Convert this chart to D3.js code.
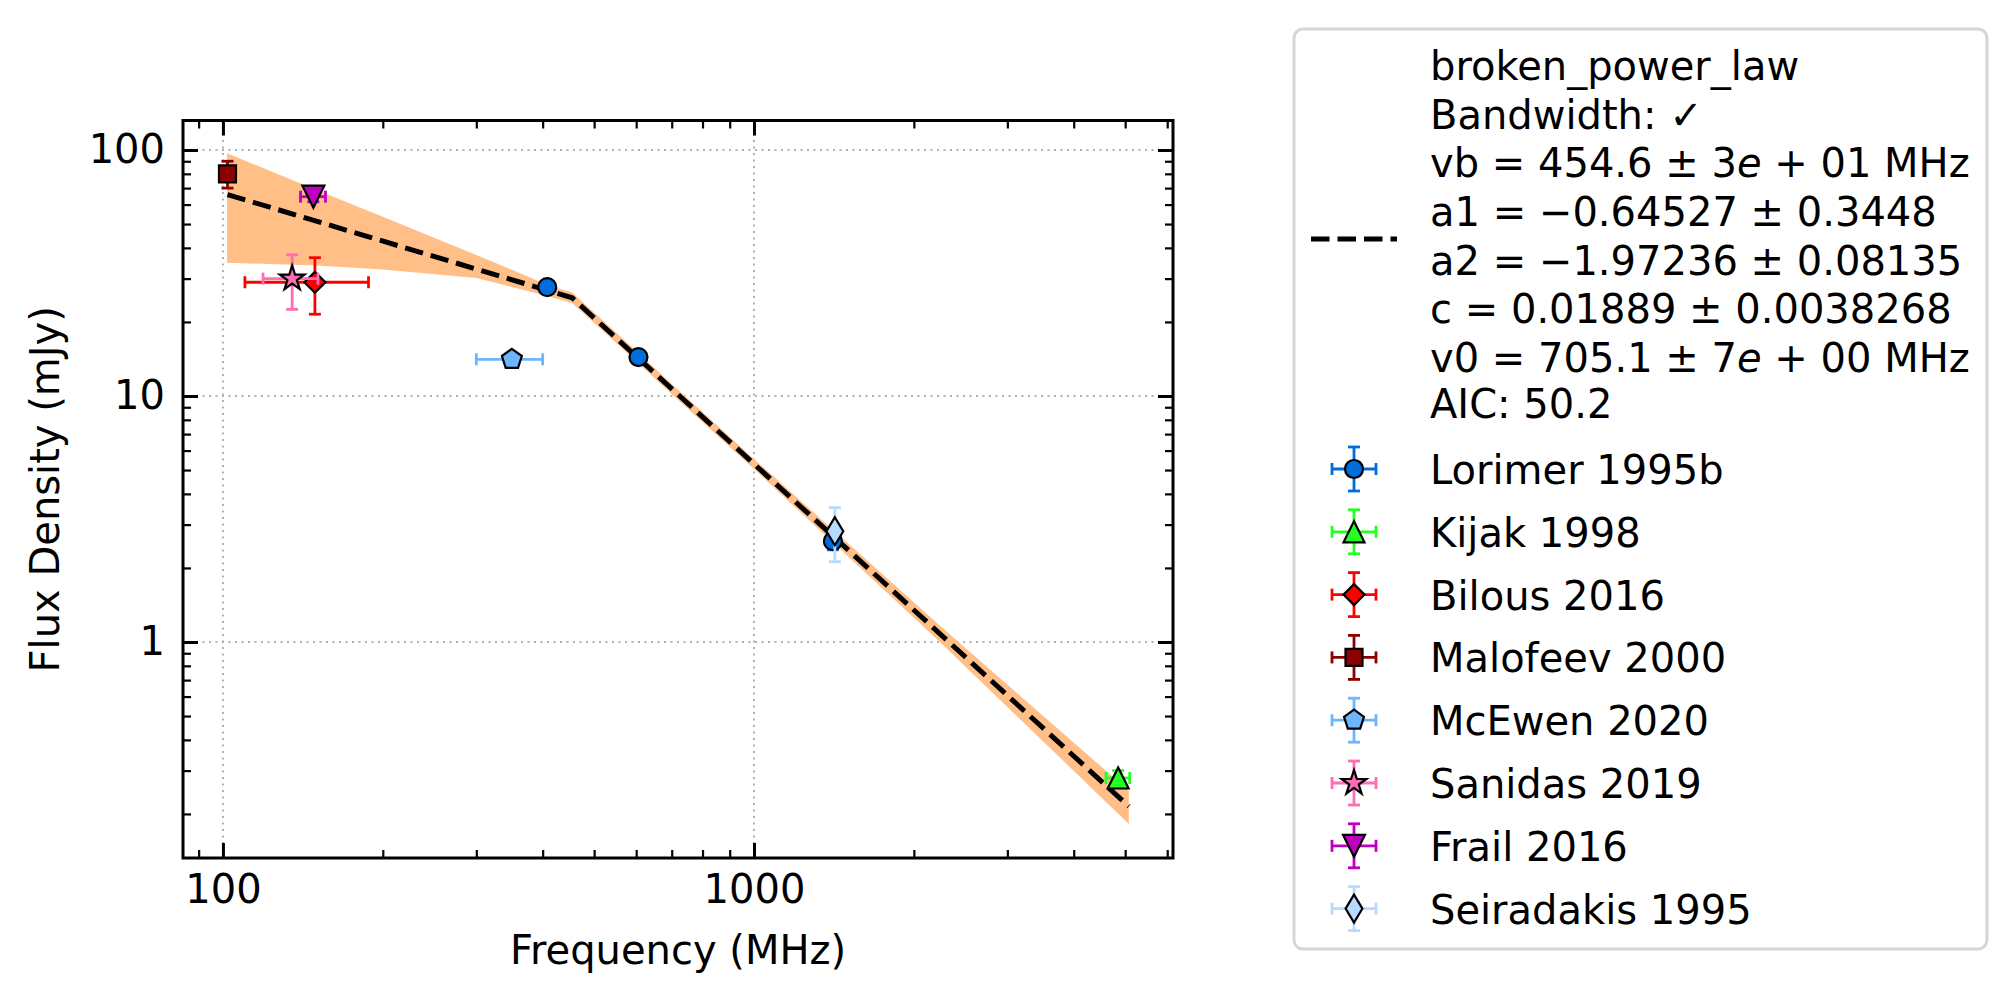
<!DOCTYPE html>
<html>
<head>
<meta charset="utf-8">
<script src="https://cdn.jsdelivr.net/npm/d3@7"></script>
<style>
body { margin: 0; background: #fff; }
text { font-family: "DejaVu Sans", sans-serif; font-size: 40px; fill: #000; }
</style>
</head>
<body>
<svg id="chart" width="2016" height="1004"></svg>
<script>
// ---- data ----
var labels  = ["Lorimer 1995b", "Kijak 1998", "Bilous 2016", "Malofeev 2000", "McEwen 2020", "Sanidas 2019", "Frail 2016", "Seiradakis 1995"];
var colors  = ["#006ddb", "#24ff24", "#ff0000", "#8b0000", "#6db6ff", "#ff6db6", "#bf00bf", "#b6dbff"];
var markers = ["circle", "triangleUp", "diamond", "square", "pentagon", "star", "triangleDown", "thinDiamond"];
var freqs   = [[408, 606, 1408], [4850], [149], [102], [350], [135], [148], [1420]];
var fluxes  = [[27.7, 14.4, 2.57], [0.28], [29], [80], [14.1], [30], [64.6], [2.82]];
var fluxErr = [[1.0, 0.6, 0.2], [0.02], [7.5], [10], [0.7], [7.5], [3], [0.7]];
var freqErr = [[4, 5, 8], [250], [39], [1], [50], [16], [8], [6]];

// fitted broken power law (break at vb) and its uncertainty band
var fitFreq = [102, 454.6, 5080];
var fitFlux = [65.9, 25.07, 0.2146];
var bandFreq  = [101.8, 150, 200, 300, 362, 408, 454.6, 606, 700, 1000, 2237, 5080];
var bandUpper = [97.0, 68.8, 53.5, 37.4, 31.6, 28.25, 26.35, 14.95, 11.2, 5.55, 1.166, 0.2486];
var bandLower = [34.8, 33.9, 32.7, 30.2, 27.2, 25.5, 23.9, 13.6, 10.2, 5.05, 1.003, 0.182];

var fitLines = [
  [{t: "broken_power_law"}],
  [{t: "Bandwidth: \u2713"}],
  [{t: "vb = 454.6 \u00b1 3"}, {t: "e", i: 1}, {t: " + 01 MHz"}],
  [{t: "a1 = \u22120.64527 \u00b1 0.3448"}],
  [{t: "a2 = \u22121.97236 \u00b1 0.08135"}],
  [{t: "c = 0.01889 \u00b1 0.0038268"}],
  [{t: "v0 = 705.1 \u00b1 7"}, {t: "e", i: 1}, {t: " + 00 MHz"}],
  [{t: "AIC: 50.2"}]
];

var xMajor = [100, 1000];
var yMajor = [1, 10, 100];

// ---- layout ----
var svg = d3.select("#chart");
var pL = 183, pR = 1173, pT = 120.5, pB = 858;

var x = d3.scaleLog().domain([84.1, 6152]).range([pL, pR]);
var y = d3.scaleLog().domain([0.1324, 131.8]).range([pB, pT]);

function minors(lo, hi) {
  var out = [];
  for (var d = -2; d <= 4; d++)
    for (var k = 2; k <= 9; k++) {
      var v = k * Math.pow(10, d);
      if (v > lo && v < hi) out.push(v);
    }
  return out;
}
var xMinor = minors(84.1, 6152);
var yMinor = minors(0.1324, 131.8);

// marker shapes, size = half extent in px
function poly(ctx, pts) {
  ctx.moveTo(pts[0][0], pts[0][1]);
  for (var i = 1; i < pts.length; i++) ctx.lineTo(pts[i][0], pts[i][1]);
  ctx.closePath();
}
var shapes = {
  circle: {draw: function(c, s) { c.moveTo(s, 0); c.arc(0, 0, s, 0, 2 * Math.PI); }},
  square: {draw: function(c, s) { poly(c, [[-s, -s], [s, -s], [s, s], [-s, s]]); }},
  triangleUp: {draw: function(c, s) { poly(c, [[0, -s], [-s, s], [s, s]]); }},
  triangleDown: {draw: function(c, s) { poly(c, [[0, s], [-s, -s], [s, -s]]); }},
  diamond: {draw: function(c, s) { poly(c, [[0, -s], [s, 0], [0, s], [-s, 0]]); }},
  thinDiamond: {draw: function(c, s) { poly(c, [[0, -s], [s * 0.6, 0], [0, s], [-s * 0.6, 0]]); }},
  pentagon: {draw: function(c, s) {
    var p = d3.range(5).map(function(i) { var a = -Math.PI / 2 + i * 2 * Math.PI / 5; return [s * Math.cos(a), s * Math.sin(a)]; });
    poly(c, p);
  }},
  star: {draw: function(c, s) {
    var p = d3.range(10).map(function(i) { var r = i % 2 ? s * 0.381966 : s; var a = -Math.PI / 2 + i * Math.PI / 5; return [r * Math.cos(a), r * Math.sin(a)]; });
    poly(c, p);
  }}
};
var markerSize = {circle: 9, square: 8.5, triangleUp: 10.5, triangleDown: 11, diamond: 10.5, thinDiamond: 14, pentagon: 10.5, star: 13};

// ---- grid ----
var grid = svg.append("g").attr("stroke", "#b0b0b0").attr("stroke-width", 2).attr("stroke-dasharray", "2,4.5");
grid.selectAll(".gx").data(xMajor).enter().append("line")
  .attr("x1", function(d) { return x(d); }).attr("x2", function(d) { return x(d); })
  .attr("y1", pT).attr("y2", pB);
grid.selectAll(".gy").data(yMajor).enter().append("line")
  .attr("y1", function(d) { return y(d); }).attr("y2", function(d) { return y(d); })
  .attr("x1", pL).attr("x2", pR);

// ---- fit band and line ----
svg.append("clipPath").attr("id", "plotclip").append("rect")
  .attr("x", pL).attr("y", pT).attr("width", pR - pL).attr("height", pB - pT);
var plot = svg.append("g").attr("clip-path", "url(#plotclip)");

var area = d3.area()
  .x(function(d, i) { return x(bandFreq[i]); })
  .y0(function(d, i) { return y(bandLower[i]); })
  .y1(function(d, i) { return y(bandUpper[i]); });
plot.append("path").datum(bandFreq).attr("d", area).attr("fill", "#ffbf87");

var line = d3.line()
  .x(function(d, i) { return x(fitFreq[i]); })
  .y(function(d, i) { return y(fitFlux[i]); });
plot.append("path").datum(fitFreq).attr("d", line)
  .attr("fill", "none").attr("stroke", "#000").attr("stroke-width", 5)
  .attr("stroke-dasharray", "18.5,8");

// ---- data points with error bars ----
var cap = 6;
labels.forEach(function(lab, s) {
  var g = svg.append("g");
  var pts = freqs[s].map(function(f, i) { return {f: f, v: fluxes[s][i], ev: fluxErr[s][i], ef: freqErr[s][i]}; });
  var eb = g.append("g").attr("stroke", colors[s]).attr("stroke-width", 2.8);
  pts.forEach(function(p) {
    var cx = x(p.f), cy = y(p.v);
    var x0 = x(p.f - p.ef), x1 = x(p.f + p.ef), y0 = y(p.v - p.ev), y1 = y(p.v + p.ev);
    eb.append("line").attr("x1", x0).attr("x2", x1).attr("y1", cy).attr("y2", cy);
    eb.append("line").attr("x1", cx).attr("x2", cx).attr("y1", y0).attr("y2", y1);
    [x0, x1].forEach(function(xx) { eb.append("line").attr("x1", xx).attr("x2", xx).attr("y1", cy - cap).attr("y2", cy + cap); });
    [y0, y1].forEach(function(yy) { eb.append("line").attr("y1", yy).attr("y2", yy).attr("x1", cx - cap).attr("x2", cx + cap); });
  });
  g.selectAll("path.m").data(pts).enter().append("path")
    .attr("d", d3.symbol().type(shapes[markers[s]]).size(markerSize[markers[s]]))
    .attr("transform", function(d) { return "translate(" + x(d.f) + "," + y(d.v) + ")"; })
    .attr("fill", colors[s]).attr("stroke", "#000").attr("stroke-width", 2.2);
});

// ---- axes (ticks inward on all sides) ----
function styleAxis(sel) {
  sel.select(".domain").remove();
  sel.selectAll("line").attr("stroke", "#000");
  sel.selectAll("text").attr("font-size", 40).attr("font-family", "DejaVu Sans").attr("fill", "#000");
}
var fmt = function(d) { return d3.format("d")(d); };

svg.append("g").attr("transform", "translate(0," + pB + ")")
  .call(d3.axisBottom(x).tickValues(xMajor).tickFormat(fmt).tickSizeInner(-15).tickSizeOuter(0).tickPadding(17))
  .call(styleAxis).selectAll("line").attr("stroke-width", 3);
svg.append("g").attr("transform", "translate(0," + pB + ")")
  .call(d3.axisBottom(x).tickValues(xMinor).tickFormat("").tickSizeInner(-8).tickSizeOuter(0))
  .call(styleAxis).selectAll("line").attr("stroke-width", 2.2);
svg.append("g").attr("transform", "translate(0," + pT + ")")
  .call(d3.axisTop(x).tickValues(xMajor).tickFormat("").tickSizeInner(-15).tickSizeOuter(0))
  .call(styleAxis).selectAll("line").attr("stroke-width", 3);
svg.append("g").attr("transform", "translate(0," + pT + ")")
  .call(d3.axisTop(x).tickValues(xMinor).tickFormat("").tickSizeInner(-8).tickSizeOuter(0))
  .call(styleAxis).selectAll("line").attr("stroke-width", 2.2);

svg.append("g").attr("transform", "translate(" + pL + ",0)")
  .call(d3.axisLeft(y).tickValues(yMajor).tickFormat(fmt).tickSizeInner(-15).tickSizeOuter(0).tickPadding(18))
  .call(styleAxis).selectAll("line").attr("stroke-width", 3);
svg.append("g").attr("transform", "translate(" + pL + ",0)")
  .call(d3.axisLeft(y).tickValues(yMinor).tickFormat("").tickSizeInner(-8).tickSizeOuter(0))
  .call(styleAxis).selectAll("line").attr("stroke-width", 2.2);
svg.append("g").attr("transform", "translate(" + pR + ",0)")
  .call(d3.axisRight(y).tickValues(yMajor).tickFormat("").tickSizeInner(-15).tickSizeOuter(0))
  .call(styleAxis).selectAll("line").attr("stroke-width", 3);
svg.append("g").attr("transform", "translate(" + pR + ",0)")
  .call(d3.axisRight(y).tickValues(yMinor).tickFormat("").tickSizeInner(-8).tickSizeOuter(0))
  .call(styleAxis).selectAll("line").attr("stroke-width", 2.2);

svg.append("rect").attr("x", pL).attr("y", pT).attr("width", pR - pL).attr("height", pB - pT)
  .attr("fill", "none").attr("stroke", "#000").attr("stroke-width", 3);

// axis titles
svg.append("text").attr("x", (pL + pR) / 2).attr("y", 964).attr("text-anchor", "middle").text("Frequency (MHz)");
svg.append("text").attr("transform", "translate(59," + (pT + pB) / 2 + ") rotate(-90)")
  .attr("text-anchor", "middle").text("Flux Density (mJy)");

// ---- legend ----
var lg = svg.append("g");
lg.append("rect").attr("x", 1294).attr("y", 29).attr("width", 693).attr("height", 920).attr("rx", 9)
  .attr("fill", "#fff").attr("stroke", "#d6d6d6").attr("stroke-width", 3);

var textX = 1430;
var fitBase = [80, 129, 177, 226, 275, 323, 372, 418];
fitLines.forEach(function(parts, i) {
  var t = lg.append("text").attr("x", textX).attr("y", fitBase[i]);
  parts.forEach(function(p) {
    t.append("tspan").attr("font-style", p.i ? "italic" : null).text(p.t);
  });
});
lg.append("line").attr("x1", 1311).attr("x2", 1397).attr("y1", 239).attr("y2", 239)
  .attr("stroke", "#000").attr("stroke-width", 5).attr("stroke-dasharray", "18.5,8");

var hx = 1354, hw = 22;
labels.forEach(function(lab, s) {
  var base = 484 + 62.8 * s, cy = base - 15;
  var h = lg.append("g").attr("stroke", colors[s]).attr("stroke-width", 2.8);
  h.append("line").attr("x1", hx - hw).attr("x2", hx + hw).attr("y1", cy).attr("y2", cy);
  h.append("line").attr("x1", hx).attr("x2", hx).attr("y1", cy - hw).attr("y2", cy + hw);
  [hx - hw, hx + hw].forEach(function(xx) { h.append("line").attr("x1", xx).attr("x2", xx).attr("y1", cy - cap).attr("y2", cy + cap); });
  [cy - hw, cy + hw].forEach(function(yy) { h.append("line").attr("y1", yy).attr("y2", yy).attr("x1", hx - cap).attr("x2", hx + cap); });
  lg.append("path").attr("d", d3.symbol().type(shapes[markers[s]]).size(markerSize[markers[s]]))
    .attr("transform", "translate(" + hx + "," + cy + ")")
    .attr("fill", colors[s]).attr("stroke", "#000").attr("stroke-width", 2.2);
  lg.append("text").attr("x", textX).attr("y", base).text(lab);
});
</script>
</body>
</html>
